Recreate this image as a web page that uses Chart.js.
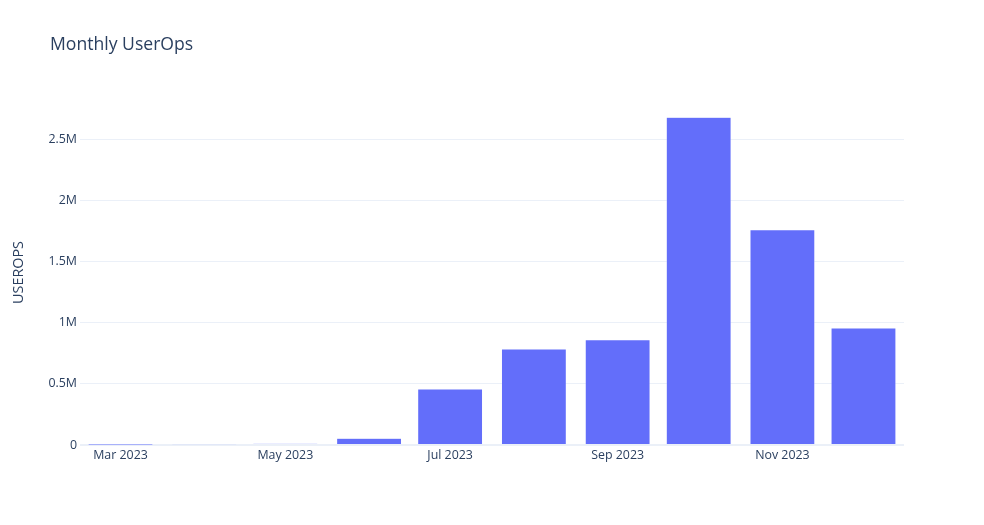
<!DOCTYPE html>
<html>
<head>
<meta charset="utf-8">
<script src="https://cdn.jsdelivr.net/npm/chart.js@4.4.0/dist/chart.umd.min.js"></script>
<style>
  html, body { margin: 0; padding: 0; background: #ffffff; }
  #wrap { width: 984px; height: 525px; }
</style>
</head>
<body>
<div id="wrap"><canvas id="c" width="984" height="525"></canvas></div>
<script>
// ---- data ----
const months = ['2023-03', '2023-04', '2023-05', '2023-06', '2023-07', '2023-08', '2023-09', '2023-10', '2023-11', '2023-12'];
const userOps = [300, 6000, 12000, 55000, 458000, 785000, 859000, 2678000, 1758000, 957000];
const xTickMonths = ['2023-03', '2023-05', '2023-07', '2023-09', '2023-11'];
const xTickLabels = ['Mar 2023', 'May 2023', 'Jul 2023', 'Sep 2023', 'Nov 2023'];
const yTickValues = [0, 500000, 1000000, 1500000, 2000000, 2500000];
const yTickLabels = ['0', '0.5M', '1M', '1.5M', '2M', '2.5M'];
const chartTitle = 'Monthly UserOps';
const yAxisTitle = 'USEROPS';

// day offset from the first month (the x axis is a date axis in days)
function dayOf(m) {
  const [y, mo] = m.split('-').map(Number);
  const [y0, m0] = months[0].split('-').map(Number);
  return (Date.UTC(y, mo - 1, 1) - Date.UTC(y0, m0 - 1, 1)) / 86400000;
}
const points = months.map((m, i) => ({ x: dayOf(m), y: userOps[i] }));
const xTickDays = xTickMonths.map(dayOf);
const firstDay = dayOf(months[0]);
const lastDay = dayOf(months[months.length - 1]);

const FONT = '"Open Sans", verdana, arial, sans-serif';
const TXT = '#2a3f5f';

const textPlugin = {
  id: 'texts',
  afterDraw(chart) {
    const ctx = chart.ctx;
    const ca = chart.chartArea;
    ctx.save();
    ctx.fillStyle = TXT;
    ctx.font = '17.6px ' + FONT;
    ctx.textAlign = 'left';
    ctx.textBaseline = 'alphabetic';
    ctx.fillText(chartTitle, 50, 50);
    ctx.translate(19, (ca.top + ca.bottom) / 2);
    ctx.rotate(-Math.PI / 2);
    ctx.font = '14.4px ' + FONT;
    ctx.textAlign = 'center';
    ctx.textBaseline = 'middle';
    ctx.fillText(yAxisTitle, 0, 0);
    ctx.restore();
  }
};

new Chart(document.getElementById('c'), {
  type: 'bar',
  data: {
    datasets: [{
      data: points,
      backgroundColor: '#636efa',
      borderColor: 'rgba(255,255,255,0.6)',
      borderWidth: 0.5,
      barPercentage: 0.8,
      categoryPercentage: 1.0
    }]
  },
  options: {
    responsive: false,
    animation: false,
    layout: { padding: { top: 100, right: 80, left: 0, bottom: 0 } },
    plugins: {
      legend: { display: false },
      title: { display: false },
      tooltip: { enabled: false }
    },
    scales: {
      x: {
        type: 'linear',
        offset: false,
        min: firstDay - 15,
        max: lastDay + 15,
        grid: { display: false, drawTicks: false, offset: false },
        border: { display: false },
        afterBuildTicks(scale) {
          scale.ticks = xTickDays.map(v => ({ value: v }));
        },
        afterFit(scale) { scale.height = 80; },
        ticks: {
          autoSkip: false,
          maxRotation: 0,
          padding: 3,
          color: TXT,
          font: { family: FONT, size: 12.4 },
          callback(v) {
            const i = xTickDays.indexOf(v);
            return i >= 0 ? xTickLabels[i] : '';
          }
        }
      },
      y: {
        min: 0,
        max: 2819000,
        grid: {
          color: '#ebf0f8',
          drawTicks: false,
          lineWidth: ctx => (ctx.tick && ctx.tick.value === 0 ? 2 : 1)
        },
        border: { display: false },
        afterBuildTicks(scale) {
          scale.ticks = yTickValues.map(v => ({ value: v }));
        },
        afterFit(scale) { scale.width = 80; },
        ticks: {
          padding: 3,
          color: TXT,
          font: { family: FONT, size: 12.4 },
          callback(v) {
            const i = yTickValues.indexOf(v);
            return i >= 0 ? yTickLabels[i] : '';
          }
        }
      }
    }
  },
  plugins: [textPlugin]
});
</script>
</body>
</html>
